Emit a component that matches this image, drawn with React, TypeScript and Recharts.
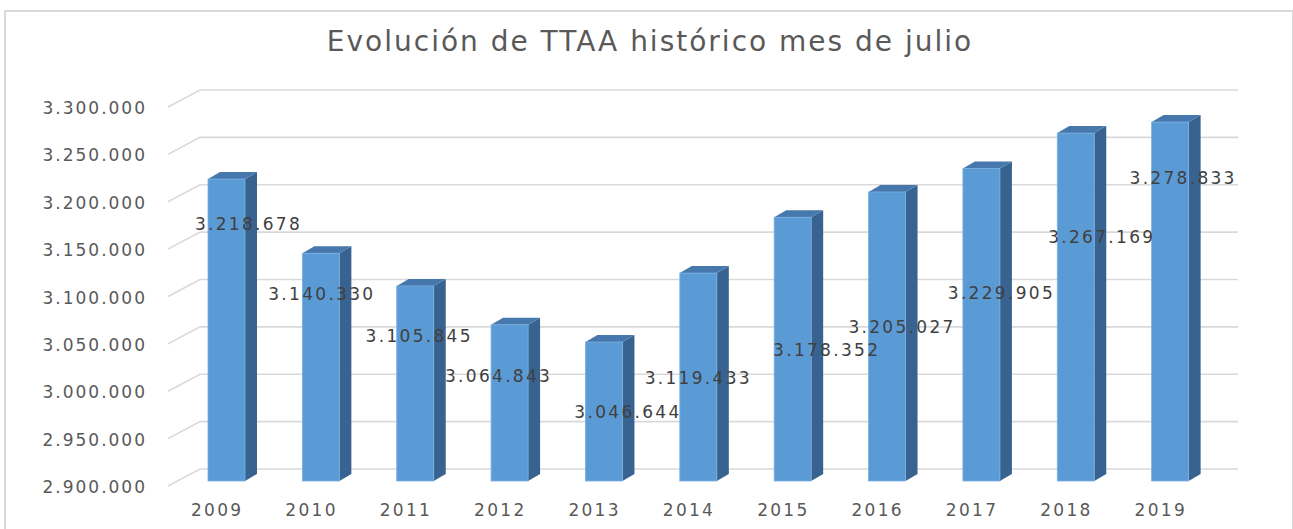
import { BarChart, Bar, XAxis, YAxis, CartesianGrid, LabelList } from 'recharts'

const years = ['2009', '2010', '2011', '2012', '2013', '2014', '2015', '2016', '2017', '2018', '2019']
const ttaa = [3218678, 3140330, 3105845, 3064843, 3046644, 3119433, 3178352, 3205027, 3229905, 3267169, 3278833]
const yTicks = [2900000, 2950000, 3000000, 3050000, 3100000, 3150000, 3200000, 3250000, 3300000]

// where Excel happened to drop each value label (offset from the bar top)
const labelNudgeX = [21, 0, 3, -12, 23, -1, 33, 14, 19, 25, 12]
const labelNudgeY = [45, 41, 50, 51, 70, 105, 133, 135, 125, 104, 56]

const data = years.map((year, i) => ({ year, value: ttaa[i] }))

const fmt = (n: number) => String(n).replace(/\B(?=(\d{3})+(?!\d))/g, '.')

const FONT = '"DejaVu Sans", Verdana, sans-serif'
const SHIFT = 11 // front face sits a bit right of the band centre
const DX = 12 // depth of the fake 3d
const DY = 7

function Bar3D(props: any) {
  const { x, y, width, height } = props
  if (height == null || width == null) return null
  const fx = x + SHIFT
  const rx = fx + width
  return (
    <g>
      <polygon
        points={`${rx},${y} ${rx + DX},${y - DY} ${rx + DX},${y + height - DY} ${rx},${y + height}`}
        fill="#386390"
      />
      <polygon
        points={`${fx},${y} ${fx + DX},${y - DY} ${rx + DX},${y - DY} ${rx},${y}`}
        fill="#4677ad"
      />
      <rect x={fx} y={y} width={width} height={height} fill="#5b9bd5" stroke="#7aafe0" strokeWidth={0.8} />
    </g>
  )
}

function gridLine(props: any) {
  const { x1, x2, y1, key } = props
  return (
    <path
      key={key}
      d={`M${x1},${y1 + 5} L${x1 + 32},${y1 - 12} L${x2 + 32},${y1 - 12}`}
      fill="none"
      stroke="#d9d9d9"
      strokeWidth={1.6}
    />
  )
}

function YTick({ x, y, payload }: any) {
  return (
    <text x={x - 21} y={y + 6} textAnchor="end" dominantBaseline="central" fontSize={17} letterSpacing={2} fill="#595959" fontFamily={FONT}>
      {fmt(payload.value)}
    </text>
  )
}

function XTick({ x, y, payload }: any) {
  return (
    <text x={x + 2} y={y + 29} textAnchor="middle" dominantBaseline="central" fontSize={17} letterSpacing={2.3} fill="#595959" fontFamily={FONT}>
      {payload.value}
    </text>
  )
}

function ValueLabel(props: any) {
  const vb = props.viewBox || props
  const { index, value } = props
  const cx = vb.x + vb.width / 2 + SHIFT + labelNudgeX[index]
  const cy = vb.y + labelNudgeY[index]
  return (
    <text x={cx + 1} y={cy} textAnchor="middle" dominantBaseline="central" fontSize={17} letterSpacing={2.3} fill="#404040" fontFamily={FONT}>
      {fmt(value)}
    </text>
  )
}

export default function App() {
  return (
    <div style={{ position: 'absolute', left: 0, top: 0, width: 1293, height: 529, background: '#fff', overflow: 'hidden' }}>
      <div
        style={{
          position: 'absolute',
          left: 4,
          top: 10,
          width: 1286,
          height: 560,
          border: '2px solid #d9d9d9',
        }}
      />
      <div
        style={{
          position: 'absolute',
          left: 0,
          top: 24,
          width: 1300,
          textAlign: 'center',
          fontFamily: FONT,
          fontSize: 28,
          letterSpacing: 2,
          color: '#595959',
          lineHeight: '36px',
        }}
      >
        Evolución de TTAA histórico mes de julio
      </div>
      <div style={{ position: 'absolute', left: 0, top: 0 }}>
        <BarChart width={1293} height={529} data={data} margin={{ top: 102, right: 87, bottom: 18, left: 18 }}>
          <CartesianGrid vertical={false} horizontal={gridLine} />
          <XAxis dataKey="year" axisLine={false} tickLine={false} tickSize={0} tickMargin={0} height={30} tick={<XTick />} interval={0} />
          <YAxis
            domain={[2900000, 3300000]}
            ticks={yTicks}
            axisLine={false}
            tickLine={false}
            tickSize={0}
            tickMargin={0}
            width={150}
            tick={<YTick />}
            interval={0}
          />
          <Bar dataKey="value" barSize={37} shape={<Bar3D />} isAnimationActive={false}>
            <LabelList dataKey="value" content={<ValueLabel />} />
          </Bar>
        </BarChart>
      </div>
    </div>
  )
}
